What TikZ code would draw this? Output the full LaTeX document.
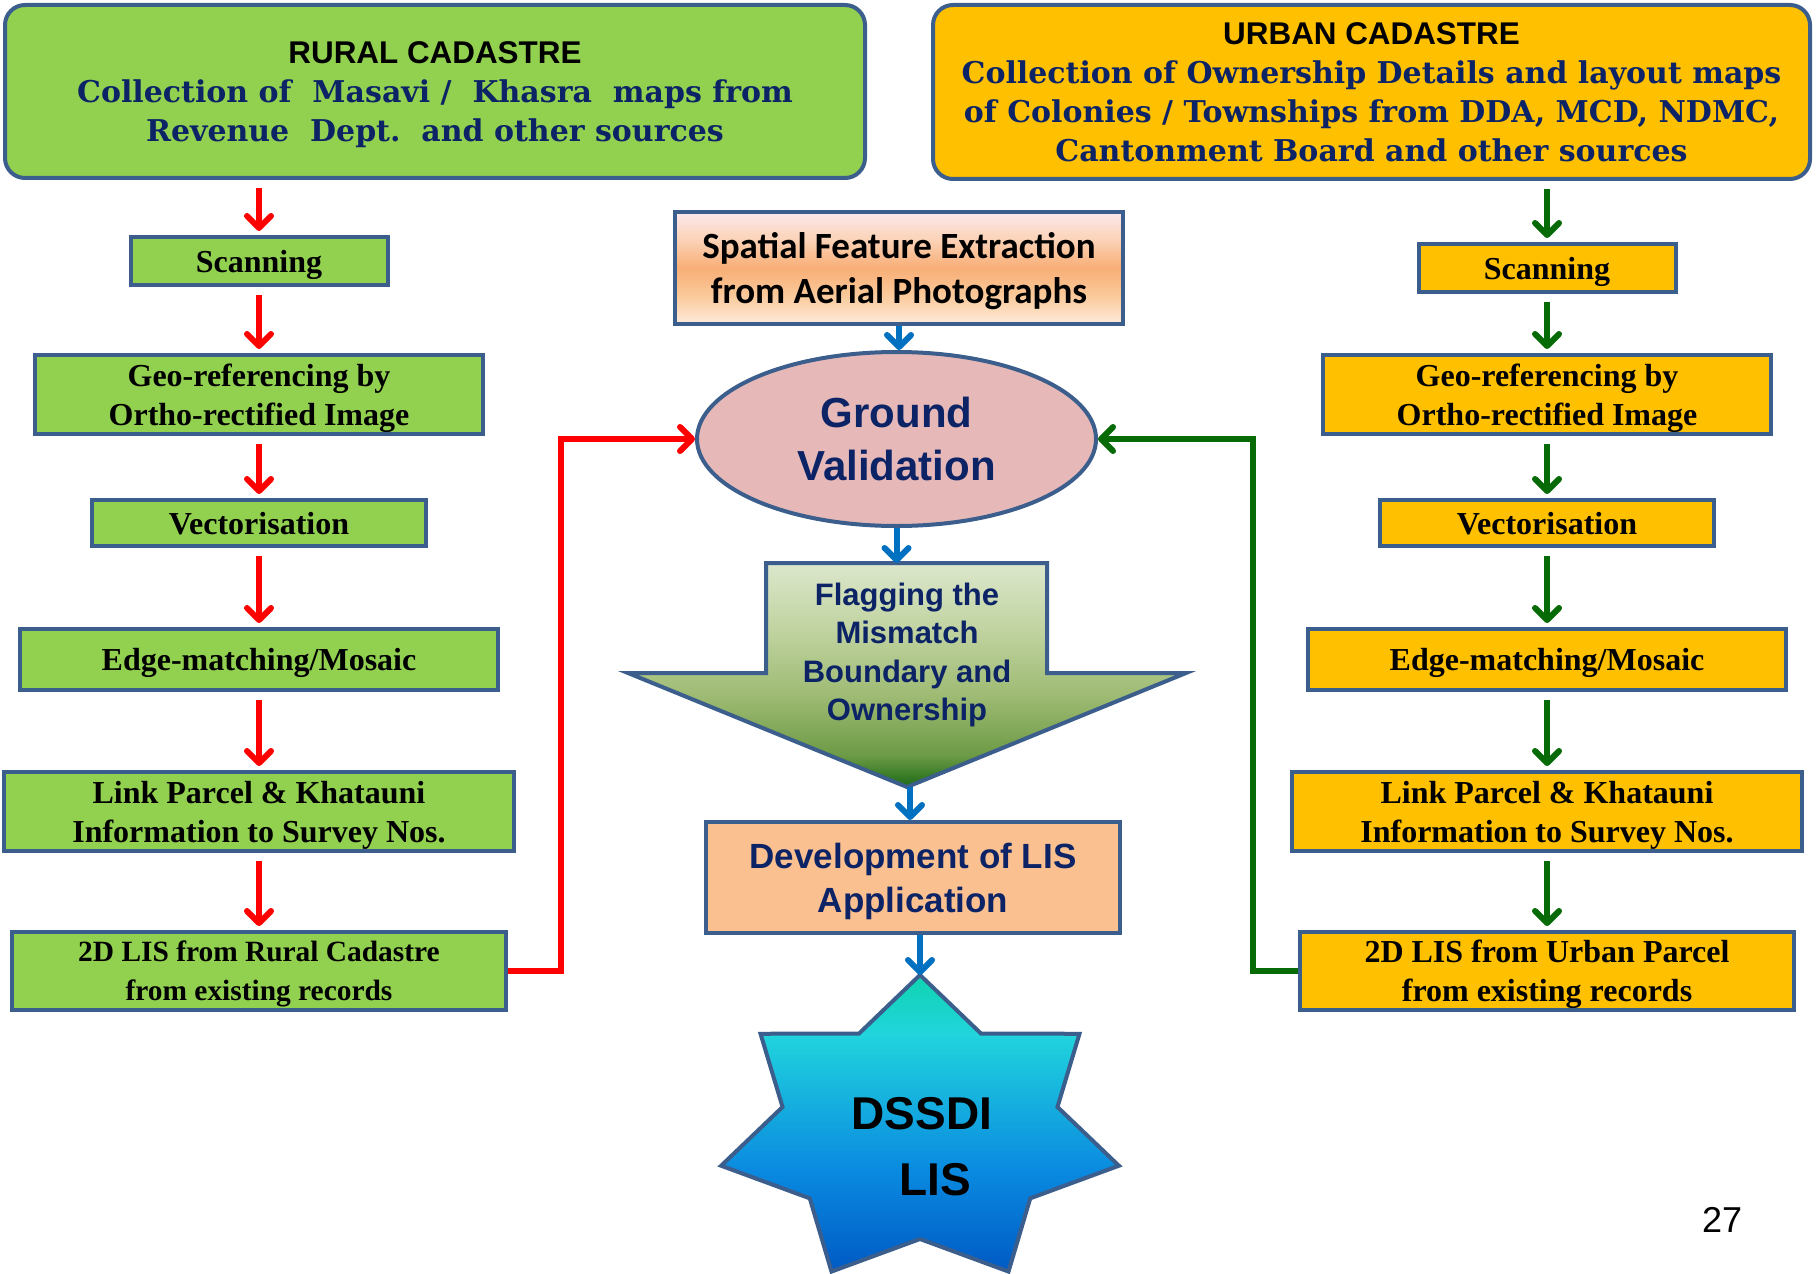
\documentclass[tikz,border=0pt]{standalone}
\usepackage{fontspec}
\setmainfont{Liberation Serif}
\newfontfamily\arialfont{Liberation Sans}
\newfontfamily\calibrifont{Carlito}
\newfontfamily\slabfont{DejaVu Serif}
\usetikzlibrary{positioning,arrows.meta,shapes.geometric}

\definecolor{borderblue}{HTML}{3B5E8C}
\definecolor{ruralgreen}{HTML}{92D050}
\definecolor{urbanamber}{HTML}{FFC000}
\definecolor{navytext}{HTML}{0C2366}
\definecolor{groundpink}{HTML}{E6B9B8}
\definecolor{devorange}{HTML}{FAC090}
\definecolor{arrowred}{HTML}{FF0000}
\definecolor{arrowgreen}{HTML}{066A06}
\definecolor{arrowblue}{HTML}{0070C0}
\definecolor{spatialtop}{HTML}{FCE9EC}
\definecolor{spatialhigh}{HTML}{FBD3B8}
\definecolor{spatialmid}{HTML}{F8AE76}
\definecolor{spatiallow}{HTML}{FAC99A}
\definecolor{spatialbot}{HTML}{FDEBDA}
\definecolor{flagtop}{HTML}{DCE7CC}
\definecolor{flaghigh}{HTML}{C0D3A0}
\definecolor{flagmid}{HTML}{9DBA72}
\definecolor{flaglow}{HTML}{6C9A45}
\definecolor{flagdark}{HTML}{1B6A16}
\definecolor{startop}{HTML}{0FD4B0}
\definecolor{starcyan}{HTML}{21D4DD}
\definecolor{starblue}{HTML}{0A8AE0}
\definecolor{stardark}{HTML}{005AC4}

\pgfdeclareverticalshading{spatialshade}{100bp}{color(0bp)=(spatialbot); color(25bp)=(spatialbot); color(38bp)=(spatiallow); color(50bp)=(spatialmid); color(63bp)=(spatialhigh); color(75bp)=(spatialtop); color(100bp)=(spatialtop)}
\pgfdeclareverticalshading{flagshade}{100bp}{color(0bp)=(flagdark); color(25bp)=(flagdark); color(32bp)=(flaglow); color(45bp)=(flagmid); color(60bp)=(flaghigh); color(75bp)=(flagtop); color(100bp)=(flagtop)}
\pgfdeclareverticalshading{starshade}{100bp}{color(0bp)=(stardark); color(25bp)=(stardark); color(42bp)=(starblue); color(65bp)=(starcyan); color(75bp)=(startop); color(100bp)=(startop)}

\newcommand{\cadhead}{\arialfont\bfseries\fontsize{15.7pt}{19.5pt}\selectfont}

\tikzset{
  cadastre/.style={
    draw=borderblue,
    line width=2pt,
    rounded corners=10pt,
    align=center,
    text depth=0pt,
    text=navytext,
    font=\slabfont\bfseries\fontsize{15pt}{19.5pt}\selectfont
  },
  block/.style={
    draw=borderblue,
    line width=2pt,
    rectangle,
    inner sep=1pt,
    align=center,
    text depth=0pt,
    font=\bfseries\fontsize{16pt}{19.5pt}\selectfont
  },
  rural/.style={block, fill=ruralgreen},
  urban/.style={block, fill=urbanamber},
  spatial/.style={block, shading=spatialshade, font=\calibrifont\bfseries\fontsize{18.5pt}{22.5pt}\selectfont},
  validation/.style={
    ellipse,
    draw=borderblue,
    line width=2pt,
    fill=groundpink,
    align=center,
    text=navytext,
    font=\arialfont\bfseries\fontsize{21pt}{26.5pt}\selectfont
  },
  flag_arrow/.style={draw=borderblue, line width=2pt, shading=flagshade},
  flag_text/.style={align=center, text=navytext, font=\arialfont\bfseries\fontsize{15.5pt}{19.2pt}\selectfont},
  lisapp/.style={block, fill=devorange, text=navytext, font=\arialfont\bfseries\fontsize{17.5pt}{22pt}\selectfont},
  lis_star/.style={draw=borderblue, line width=2pt, shading=starshade},
  star_text/.style={align=center, font=\arialfont\bfseries\fontsize{23pt}{33pt}\selectfont},
  pagenum/.style={font=\arialfont\fontsize{18pt}{20pt}\selectfont},
  line/.style={-{Straight Barb[round,length=6pt,width=12pt]}, line width=3pt},
  red_line/.style={line, draw=arrowred, shorten <=4pt, shorten >=2pt},
  green_line/.style={line, draw=arrowgreen, shorten <=4pt, shorten >=2pt},
  blue_line/.style={line, draw=arrowblue},
  red_elbow/.style={line, draw=arrowred},
  green_elbow/.style={line, draw=arrowgreen}
}

\begin{document}
\begin{tikzpicture}[x=0.5pt,y=-0.5pt]

	\useasboundingbox (0,0) rectangle (1818,1273);

	% rural cadastre
	\node[cadastre, fill=ruralgreen, minimum width=430pt, minimum height=86.5pt] (rural_top) at (435,91.5)
		{{\color{black}\cadhead RURAL CADASTRE}\\Collection of\ \ Masavi /\ \ Khasra\ \ maps from\\Revenue\ \ Dept.\ \ and other sources};

	\node[rural, minimum width=128.5pt, minimum height=24pt] (scan_l) at (259,261) {Scanning};
	\node[rural, minimum width=224pt, minimum height=39.5pt, below = 33pt of scan_l] (geo_l) {Geo-referencing by\\Ortho-rectified Image};
	\node[rural, minimum width=167pt, minimum height=23pt, below = 31pt of geo_l] (vec_l) {Vectorisation};
	\node[rural, minimum width=239pt, minimum height=30.5pt, below = 39.5pt of vec_l] (edge_l) {Edge-matching/Mosaic};
	\node[rural, minimum width=255pt, minimum height=39.5pt, below = 39pt of edge_l] (link_l) {Link Parcel \& Khatauni\\Information to Survey Nos.};
	\node[rural, minimum width=247pt, minimum height=39pt, below = 38.5pt of link_l,
		font=\bfseries\fontsize{14.7pt}{19.5pt}\selectfont] (lis_l) {2D LIS from Rural Cadastre\\from existing records};

	\draw[red_line] (scan_l.north |- rural_top.south) -- (scan_l.north);
	\draw[red_line] (scan_l.south) -- (geo_l.north);
	\draw[red_line] (geo_l.south) -- (vec_l.north);
	\draw[red_line] (vec_l.south) -- (edge_l.north);
	\draw[red_line] (edge_l.south) -- (link_l.north);
	\draw[red_line] (link_l.south) -- (lis_l.north);

	% urban cadastre
	\node[cadastre, fill=urbanamber, minimum width=438.5pt, minimum height=87pt] (urban_top) at (1371.5,92)
		{{\color{black}\cadhead URBAN CADASTRE}\\Collection of Ownership Details and layout maps\\of Colonies / Townships from DDA, MCD, NDMC,\\Cantonment Board and other sources};

	\node[urban, minimum width=128.5pt, minimum height=24pt] (scan_r) at (1547,268) {Scanning};
	\node[urban, minimum width=224pt, minimum height=39.5pt, below = 29.5pt of scan_r] (geo_r) {Geo-referencing by\\Ortho-rectified Image};
	\node[urban, minimum width=167pt, minimum height=23pt, below = 31pt of geo_r] (vec_r) {Vectorisation};
	\node[urban, minimum width=239pt, minimum height=30.5pt, below = 39.5pt of vec_r] (edge_r) {Edge-matching/Mosaic};
	\node[urban, minimum width=255pt, minimum height=39.5pt, below = 39pt of edge_r] (link_r) {Link Parcel \& Khatauni\\Information to Survey Nos.};
	\node[urban, minimum width=247pt, minimum height=39pt, below = 38.5pt of link_r] (lis_r) {2D LIS from Urban Parcel\\from existing records};

	\draw[green_line] (scan_r.north |- urban_top.south) -- (scan_r.north);
	\draw[green_line] (scan_r.south) -- (geo_r.north);
	\draw[green_line] (geo_r.south) -- (vec_r.north);
	\draw[green_line] (vec_r.south) -- (edge_r.north);
	\draw[green_line] (edge_r.south) -- (link_r.north);
	\draw[green_line] (link_r.south) -- (lis_r.north);

	% centre
	\node[spatial, minimum width=224pt, minimum height=56pt] (spatial) at (899,268) {Spatial Feature Extraction\\from Aerial Photographs};
	\node[validation, minimum width=199.5pt, minimum height=87pt] (ground) at (896.5,439) {Ground\\Validation};

	\path[flag_arrow] (766,563) -- (1047,563) -- (1047,673) -- (1186,673) -- (907,787) -- (628,673) -- (766,673) -- cycle;
	\coordinate (flag_top) at (899,563);
	\coordinate (flag_tip) at (910,787);
	\node[flag_text] (flag) at (907,655) {Flagging the\\Mismatch\\Boundary and\\Ownership};

	\node[lisapp, minimum width=207pt, minimum height=55.5pt] (lis_app) at (913,877.5) {Development of LIS\\Application};

	\coordinate (star_top) at (920,975);
	\path[lis_star] (star_top)
		\foreach \k [evaluate=\k as \rx using {isodd(\k) ? 141 : 204},
		             evaluate=\k as \ry using {isodd(\k) ? 108 : 156},
		             evaluate=\k as \ang using {90-\k*360/14}] in {1,...,13}
		{ -- ({920+\rx*cos(\ang)},{1131-\ry*sin(\ang)}) } -- cycle;
	\node[star_text] (dssdi) at (922,1147) {DSSDI\\\hspace*{13pt}LIS};

	\draw[blue_line] (spatial.south) -- (spatial.south |- ground.north);
	\draw[blue_line] (ground.south) -- (ground.south |- flag_top);
	\draw[blue_line] (flag_tip) -- (flag_tip |- lis_app.north);
	\draw[blue_line] (lis_app.south -| star_top) -- (star_top);

	% back to ground validation
	\draw[red_elbow] (lis_l.east) -- ++(26.5pt,0) |- (ground.west);
	\draw[green_elbow] (lis_r.west) -- ++(-22.5pt,0) |- (ground.east);

	\node[pagenum] (page_no) at (1722,1220) {27};

\end{tikzpicture}
\end{document}
